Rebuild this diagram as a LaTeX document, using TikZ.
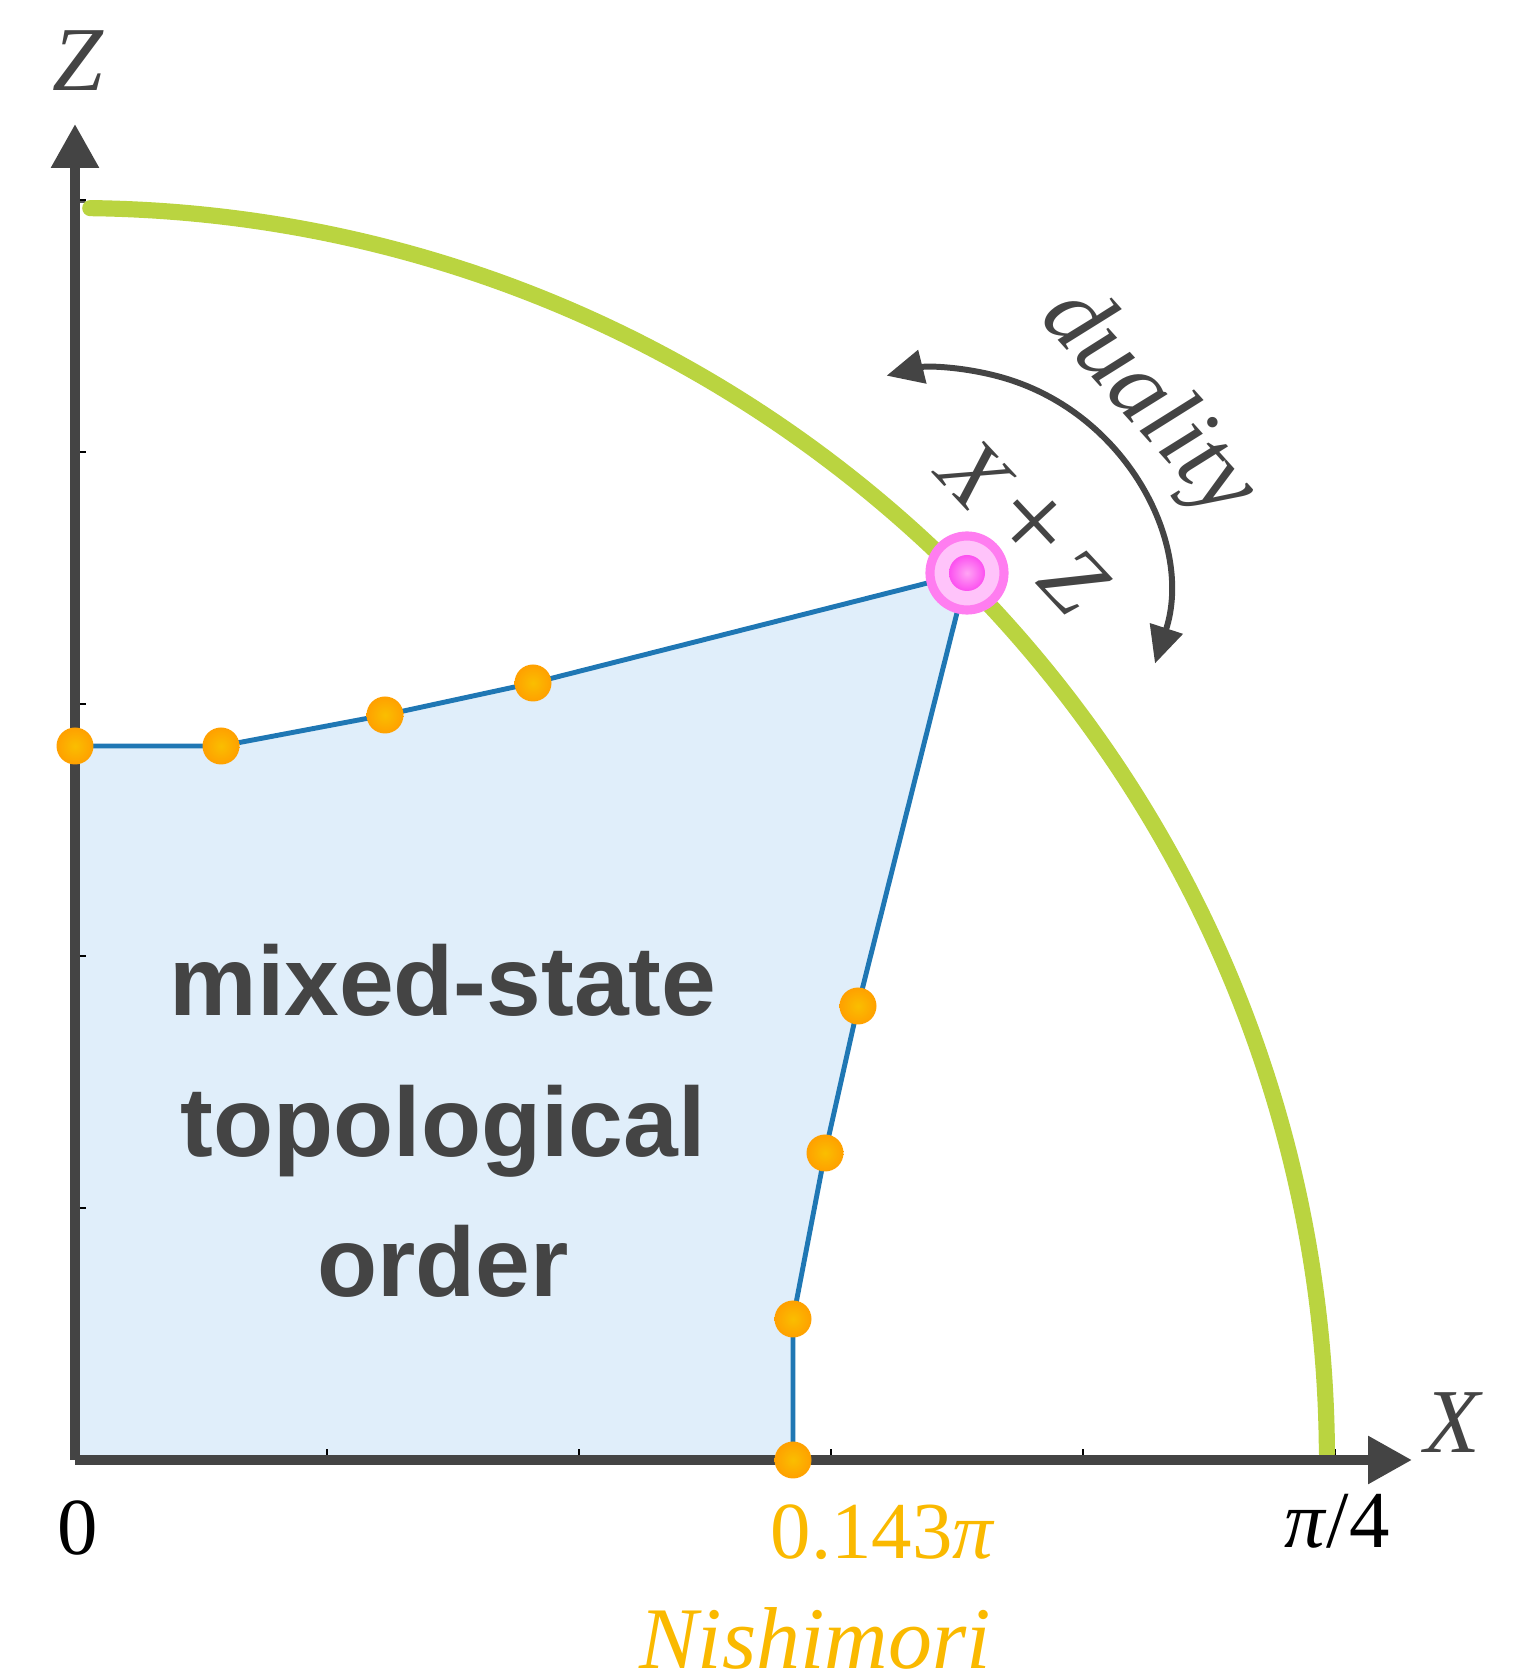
\documentclass[tikz,border=0pt]{standalone}
\usepackage{fontspec}
\setmainfont{Liberation Serif}
\newfontfamily\phasesans{Liberation Sans}
\usetikzlibrary{arrows.meta}
\definecolor{axiscolor}{RGB}{68,68,68}
\definecolor{phasecolor}{RGB}{31,119,180}
\definecolor{phasefill}{RGB}{224,238,250}
\definecolor{dotouter}{RGB}{255,160,0}
\definecolor{dotinner}{RGB}{250,190,0}
\definecolor{nishicolor}{RGB}{250,185,0}
\definecolor{curvecolor}{RGB}{186,212,64}
\definecolor{pinkcolor}{RGB}{255,125,240}
\definecolor{pinkhalo}{RGB}{255,195,250}
\definecolor{pinkcore}{RGB}{252,80,240}
\tikzset{
  axis/.style={
    axiscolor,
    line width=2.8pt,
    -{Triangle[length=12.5pt, width=13pt]}
  },
  tickmark/.style={
    black,
    line width=0.6pt
  },
  phaseline/.style={
    phasecolor,
    line width=1.4pt,
    line join=round
  },
  critline/.style={
    curvecolor,
    line width=4.6pt,
    line cap=round
  },
  guideline/.style={
    black,
    line width=0.4pt,
    dashed
  },
  datadot/.style={
    circle,
    minimum size=3.7mm,
    inner sep=0pt,
    shading=radial,
    inner color=dotinner,
    outer color=dotouter
  },
  halo/.style={
    circle,
    minimum size=7.4mm,
    inner sep=0pt,
    fill=pinkhalo,
    draw=pinkcolor,
    line width=2.6pt
  },
  core/.style={
    circle,
    minimum size=3.6mm,
    inner sep=0pt,
    shading=radial,
    inner color=pinkcolor!70,
    outer color=pinkcore
  },
  dualarrow/.style={
    axiscolor,
    line width=1.7pt,
    {Triangle[length=10.5pt, width=9.5pt]}-{Triangle[length=10.5pt, width=9.5pt]}
  },
  axislabel/.style={
    text=axiscolor,
    font=\fontsize{26}{30}\selectfont\itshape
  },
  ticklabel/.style={
    font=\fontsize{23}{28}\selectfont
  }
}
\begin{document}
\begin{tikzpicture}[x=0.1mm, y=0.1mm]
\useasboundingbox (0,0) rectangle (1518,1677);

% Points
\coordinate (origin) at (75,217);
\coordinate (xend) at (1412,217);
\coordinate (zend) at (75,1553);
\coordinate (p1) at (75,931);
\coordinate (p2) at (221,931);
\coordinate (p3) at (385,962);
\coordinate (p4) at (533,994);
\coordinate (crit) at (967,1104);
\coordinate (q1) at (858,671);
\coordinate (q2) at (825,524);
\coordinate (q3) at (793,358);
\coordinate (q4) at (793,217);
\coordinate (dualcenter) at (941,1083);

% Phase region
\fill[phasefill] (origin) -- (p1) -- (p2) -- (p3) -- (p4) -- (crit)
    -- (q1) -- (q2) -- (q3) -- (q4) -- cycle;

% Ticks
\foreach \k in {1,...,5} {
  \draw[tickmark] (75+252*\k,217) -- ++(0,11);
  \draw[tickmark] (75,217+252*\k) -- ++(11,0);
}

% Phase boundary
\draw[phaseline] (p1) -- (p2) -- (p3) -- (p4) -- (crit)
    -- (q1) -- (q2) -- (q3) -- (q4);

% Self-dual line
\draw[guideline] (origin) ++(90:1258) arc[start angle=90, end angle=0.2, radius=1258];
\draw[critline] (origin) ++(89.3:1252) arc[start angle=89.3, end angle=0.3, radius=1252];

% Axes
\draw[axis] (origin) -- (xend);
\draw[axis] (origin) -- (zend);

% Data points
\node[datadot] (d1) at (p1) {};
\node[datadot] (d2) at (p2) {};
\node[datadot] (d3) at (p3) {};
\node[datadot] (d4) at (p4) {};
\node[datadot] (e1) at (q1) {};
\node[datadot] (e2) at (q2) {};
\node[datadot] (e3) at (q3) {};
\node[datadot] (e4) at (q4) {};

% Self-dual point
\node[halo] (crithalo) at (crit) {};
\node[core] (critdot) at (crit) {};

% Duality arrow
\draw[dualarrow] (dualcenter) ++(-18:225) arc[start angle=-18, end angle=104, radius=225];

% Labels
\node[axislabel] (zlabel) at (78,1616) {Z};
\node[axislabel] (xlabel) at (1452,254) {X};
\node[ticklabel] (zero) at (78,149) {0};
\node[ticklabel] (quarter) at (1337,156) {\textit{π}/4};
\node[ticklabel, text=nishicolor] (nishival) at (883,145) {0.143\textit{π}};
\node[anchor=base, text=nishicolor, font=\fontsize{25}{30}\selectfont\itshape] (nishi) at (815,8) {Nishimori};
\node[rotate=-48, text=axiscolor, font=\fontsize{28}{32}\selectfont\itshape] (duality) at (1147,1273) {duality};
\node[rotate=-47, text=axiscolor, font=\fontsize{26}{30}\selectfont] (xplusz) at (1027,1153)
  {\textit{X}\hspace{0.12em}\raisebox{0.02em}{\fontsize{34}{34}\selectfont +}\hspace{0.12em}\textit{Z}};
\node[align=center, text=axiscolor, font=\fontsize{28}{40}\selectfont\phasesans\bfseries] (phase) at (443,556) {mixed-state\\topological\\order};

\end{tikzpicture}
\end{document}
